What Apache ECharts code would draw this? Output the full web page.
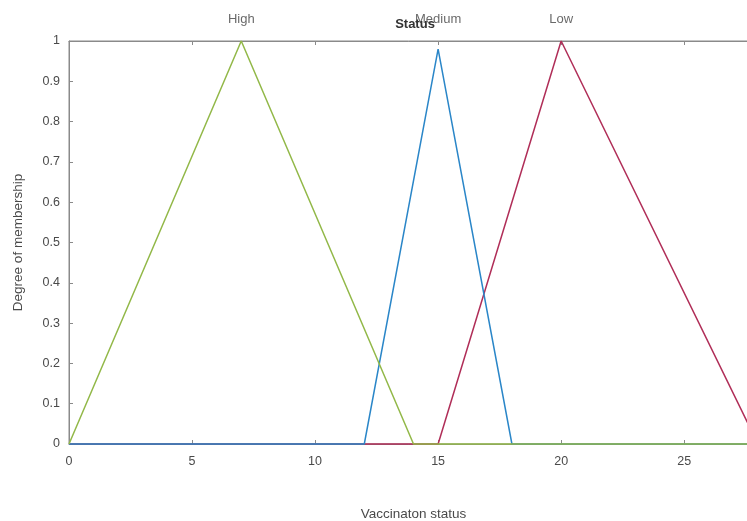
<!DOCTYPE html>
<html><head><meta charset="utf-8">
<script src="https://cdn.jsdelivr.net/npm/echarts@6/dist/echarts.min.js"></script>
<style>html,body{margin:0;padding:0;background:#fff}#c{width:747px;height:521px}</style>
</head><body><div id="c"></div>
<script>
const highMF = [[0, 0], [7, 1], [14, 0], [28, 0]];
const mediumMF = [[0, 0], [12, 0], [15, 0.98], [18, 0], [28, 0]];
const lowMF = [[0, 0], [15, 0], [20, 1], [28, 0]];
const mfNames = ['High', 'Medium', 'Low'];
const mfPeaks = [7, 15, 20];
const xTicks = [0, 5, 10, 15, 20, 25];
const yTicks = [0, 0.1, 0.2, 0.3, 0.4, 0.5, 0.6, 0.7, 0.8, 0.9, 1];

const chart = echarts.init(document.getElementById('c'));
const txt = '#4a4a4a';
const axisCol = '#8a8a8a';
chart.setOption({
  animation: false,
  title: {
    text: 'Status', left: 410, top: 13, textAlign: 'center',
    textStyle: {fontFamily: 'Liberation Sans', fontSize: 13, fontWeight: 'bold', color: '#333'}
  },
  grid: {left: 69, top: 41, width: 689, height: 403, outerBoundsMode: 'none', containLabel: false,
    show: true, borderColor: axisCol, borderWidth: 1},
  xAxis: [{
    type: 'value', min: 0, max: 28, interval: 5,
    name: 'Vaccinaton status', nameLocation: 'middle', nameGap: 63,
    nameTextStyle: {fontFamily: 'Liberation Sans', fontSize: 13.5, color: txt},
    axisLine: {show: true, lineStyle: {color: axisCol}},
    axisTick: {show: true, inside: true, length: 4, lineStyle: {color: axisCol}},
    axisLabel: {fontFamily: 'Liberation Sans', fontSize: 12.5, color: txt, margin: 11,
      formatter: v => xTicks.includes(v) ? String(v) : ''},
    splitLine: {show: false}
  }, {
    type: 'value', position: 'top', min: 0, max: 28, interval: 5,
    axisLine: {show: true, lineStyle: {color: axisCol}},
    axisTick: {show: true, inside: true, length: 4, lineStyle: {color: axisCol}},
    axisLabel: {show: false}, splitLine: {show: false}
  }],
  yAxis: {
    type: 'value', min: 0, max: 1, interval: 0.1,
    name: 'Degree of membership', nameLocation: 'middle', nameGap: 44, nameRotate: 90,
    nameTextStyle: {fontFamily: 'Liberation Sans', fontSize: 13.5, color: txt},
    axisLine: {show: true, lineStyle: {color: axisCol}},
    axisTick: {show: true, inside: true, length: 4, lineStyle: {color: axisCol}},
    axisLabel: {fontFamily: 'Liberation Sans', fontSize: 12.5, color: txt, margin: 9,
      formatter: v => { const r = Math.round(v * 10) / 10; return yTicks.includes(r) ? String(r) : ''; }},
    splitLine: {show: false}
  },
  series: [
    {type: 'line', data: lowMF, symbol: 'none', clip: false, lineStyle: {color: '#B02E58', width: 1.5}, z: 2},
    {type: 'line', data: mediumMF, symbol: 'none', clip: false, lineStyle: {color: '#2A86C8', width: 1.5}, z: 3},
    {type: 'line', data: highMF, symbol: 'none', clip: false, lineStyle: {color: '#92B848', width: 1.5}, z: 4},
    {type: 'scatter', symbolSize: 0, clip: false, silent: true,
      data: mfNames.map((n, i) => ({value: [mfPeaks[i], 1], name: n})),
      label: {show: true, position: 'top', distance: 15, formatter: p => p.name,
        fontFamily: 'Liberation Sans', fontSize: 13, color: '#444'}, z: 5}
  ]
});
</script></body></html>
